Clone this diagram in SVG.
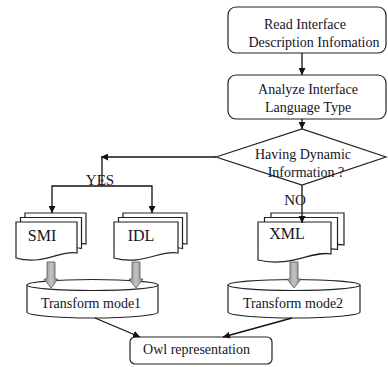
<svg xmlns="http://www.w3.org/2000/svg" width="388" height="367" viewBox="0 0 388 367">
<style>
.shape{fill:#fff;stroke:#222;stroke-width:1.2}
.line{fill:none;stroke:#111;stroke-width:1.3}
.fat{fill:url(#gray);stroke:#555;stroke-width:0.8}
text{font-family:"Liberation Serif","Times New Roman",serif;font-size:14px;fill:#141428;text-anchor:middle}
.big{font-size:16px}
</style>
<defs>
<marker id="ah" viewBox="0 0 10 10" refX="10" refY="5" markerWidth="7" markerHeight="7" markerUnits="userSpaceOnUse" orient="auto">
<path d="M0,0 L10,5 L0,10 Z" fill="#111"/>
</marker>
<linearGradient id="gray" x1="0" y1="0" x2="1" y2="0">
<stop offset="0" stop-color="#8a8a8a"/>
<stop offset="0.5" stop-color="#c4c4c4"/>
<stop offset="1" stop-color="#8a8a8a"/>
</linearGradient>
</defs>
<rect width="388" height="367" fill="#fff"/>

<g id="read">
<rect class="shape" x="228" y="7" width="158" height="46" rx="8"/>
<text x="305" y="29">Read Interface</text>
<text x="314" y="47">Description Infomation</text>
</g>
<g id="analyze">
<rect class="shape" x="228" y="75" width="158" height="44" rx="8"/>
<text x="308" y="94">Analyze Interface</text>
<text x="308" y="112">Language Type</text>
</g>
<g id="decision">
<path class="shape" d="M216,157 L302,129 L386,157 L302,185 Z"/>
<text x="303" y="159">Having Dynamic</text>
<text x="306" y="177">Information ?</text>
</g>

<g id="smi">
<path class="shape" d="M25,213 H86 V244 C70,240 52,257 25,249 Z"/>
<path class="shape" d="M20.5,217.5 H81.5 V248.5 C66,244 48,261 20.5,253.5 Z"/>
<path class="shape" d="M16,222 H77 V253 C62,249 44,266 16,258 Z"/>
<text class="big" x="42" y="241">SMI</text>
</g>
<g id="idl">
<path class="shape" d="M123,213 H187 V244 C171,240 151,257 123,249 Z"/>
<path class="shape" d="M118.5,217.5 H182.5 V248.5 C166,244 146,261 118.5,253.5 Z"/>
<path class="shape" d="M114,222 H178 V253 C162,249 142,266 114,258 Z"/>
<text class="big" x="141" y="241">IDL</text>
</g>
<g id="xml">
<path class="shape" d="M271,213 H344 V245 C326,241 303,259 271,251 Z"/>
<path class="shape" d="M264.5,217.5 H337.5 V249.5 C319,245 296,263 264.5,255.5 Z"/>
<path class="shape" d="M258,222 H331 V254 C313,250 290,268 258,260 Z"/>
<text class="big" x="287" y="239">XML</text>
</g>

<g id="mode1">
<path class="shape" d="M27,285 V312 A65.5,6 0 0 0 158,312 V285"/>
<ellipse class="shape" cx="92.5" cy="285" rx="65.5" ry="5.5"/>
<text x="91" y="308">Transform mode1</text>
</g>
<g id="mode2">
<path class="shape" d="M228,285 V312 A66,6 0 0 0 360,312 V285"/>
<ellipse class="shape" cx="294" cy="285" rx="66" ry="5.5"/>
<text x="293" y="308">Transform mode2</text>
</g>
<g id="owl">
<rect class="shape" x="130" y="337" width="142" height="27" rx="5"/>
<text x="196.5" y="354">Owl representation</text>
</g>

<g id="connectors">
<path class="line" d="M302,53 V75" marker-end="url(#ah)"/>
<path class="line" d="M302,119 V129" marker-end="url(#ah)"/>
<path class="line" d="M216,157 H101" marker-end="url(#ah)"/>
<path class="line" d="M102,157 V186"/>
<path class="line" d="M102,186 H52 V213" marker-end="url(#ah)"/>
<path class="line" d="M102,186 H152 V213" marker-end="url(#ah)"/>
<path class="line" d="M302,185 V223" marker-end="url(#ah)"/>
<path class="line" d="M95,318 L140,337" marker-end="url(#ah)"/>
<path class="line" d="M292,318 L223,337" marker-end="url(#ah)"/>
<polygon class="fat" points="47,262 55,262 55,279 58,279 51,288 44,279 47,279"/>
<polygon class="fat" points="132,262 140,262 140,279 143,279 136,288 129,279 132,279"/>
<polygon class="fat" points="290,262 298,262 298,279 301,279 294,288 287,279 290,279"/>
<text x="100" y="185" style="font-size:15px">YES</text>
<text x="295" y="205" style="font-size:15px">NO</text>
</g>
</svg>
